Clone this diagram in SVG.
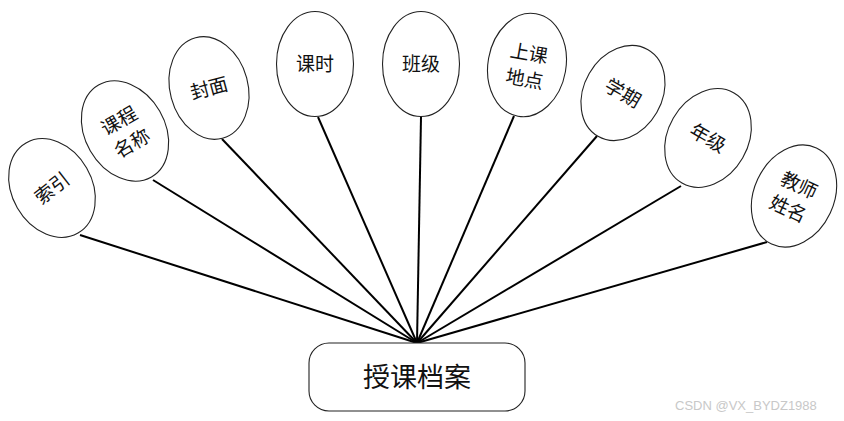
<svg xmlns="http://www.w3.org/2000/svg" width="844" height="421" viewBox="0 0 844 421">
<style>
.e{fill:#fff;stroke:#222;stroke-width:1.1}
.t{font-family:"Noto Sans CJK SC","Liberation Sans",sans-serif;font-size:19px;fill:#111;text-anchor:middle}
.c{stroke:#000;stroke-width:2;fill:none}
</style>
<rect width="844" height="421" fill="#fff"/>
<g id="connectors">
<line class="c" x1="417" y1="343" x2="80" y2="235"/>
<line class="c" x1="417" y1="343" x2="153" y2="180"/>
<line class="c" x1="417" y1="343" x2="222" y2="139"/>
<line class="c" x1="417" y1="343" x2="318" y2="117"/>
<line class="c" x1="417" y1="343" x2="421" y2="117"/>
<line class="c" x1="417" y1="343" x2="514" y2="116"/>
<line class="c" x1="417" y1="343" x2="597" y2="136"/>
<line class="c" x1="417" y1="343" x2="681" y2="186"/>
<line class="c" x1="417" y1="343" x2="767" y2="242"/>
</g>
<g id="n1" transform="translate(52,188) rotate(-30)">
<ellipse class="e" cx="0" cy="0" rx="40" ry="52"/>
<text class="t" x="0" y="7" transform="rotate(-8)">索引</text>
</g>
<g id="n2" transform="translate(125,131) rotate(-30)">
<ellipse class="e" cx="0" cy="0" rx="40" ry="53"/>
<text class="t" x="0" y="-5">课程</text>
<text class="t" x="0" y="21">名称</text>
</g>
<g id="n3" transform="translate(209,88) rotate(-15)">
<ellipse class="e" cx="0" cy="0" rx="39" ry="52"/>
<text class="t" x="0" y="7">封面</text>
</g>
<g id="n4" transform="translate(315,64)">
<ellipse class="e" cx="0" cy="0" rx="38.5" ry="52.5"/>
<text class="t" x="0" y="7">课时</text>
</g>
<g id="n5" transform="translate(421,64)">
<ellipse class="e" cx="0" cy="0" rx="38.5" ry="52.5"/>
<text class="t" x="0" y="7">班级</text>
</g>
<g id="n6" transform="translate(527,65) rotate(10)">
<ellipse class="e" cx="0" cy="0" rx="39" ry="52"/>
<text class="t" x="0" y="-5">上课</text>
<text class="t" x="0" y="21">地点</text>
</g>
<g id="n7" transform="translate(623,93) rotate(30)">
<ellipse class="e" cx="0" cy="0" rx="39" ry="50"/>
<text class="t" x="0" y="7">学期</text>
</g>
<g id="n8" transform="translate(708,138) rotate(30)">
<ellipse class="e" cx="0" cy="0" rx="40" ry="52"/>
<text class="t" x="0" y="7">年级</text>
</g>
<g id="n9" transform="translate(794,196) rotate(25)">
<ellipse class="e" cx="0" cy="0" rx="40" ry="53"/>
<text class="t" x="0" y="-5">教师</text>
<text class="t" x="0" y="21">姓名</text>
</g>
<g id="hub">
<rect x="309" y="343" width="216" height="68" rx="20" ry="20" fill="#fff" stroke="#222" stroke-width="1.1"/>
<text class="t" x="417" y="387" style="font-size:27px">授课档案</text>
</g>
<text x="675" y="410" style="font-family:'Liberation Sans',sans-serif;font-size:13px;fill:#c8c8c8">CSDN @VX_BYDZ1988</text>
</svg>
